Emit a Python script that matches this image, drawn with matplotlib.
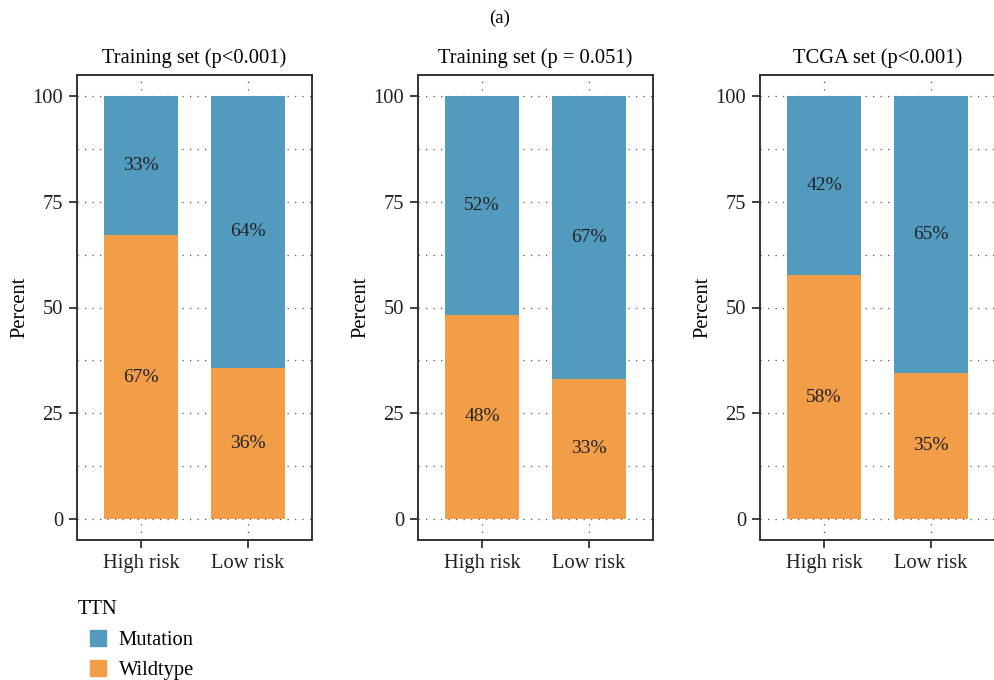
import matplotlib
matplotlib.use("Agg")
import matplotlib.pyplot as plt
from matplotlib.patches import Patch

plt.rcParams['font.family'] = ['Liberation Serif', 'DejaVu Serif']

titles = ["Training set (p<0.001)", "Training set (p = 0.051)", "TCGA set (p<0.001)"]
groups = ["High risk", "Low risk"]
wildtype = [[67.1, 35.8], [48.3, 33.2], [57.6, 34.6]]
mutation = [[32.9, 64.2], [51.7, 66.8], [42.4, 65.4]]
wild_lbl = [["67%", "36%"], ["48%", "33%"], ["58%", "35%"]]
mut_lbl = [["33%", "64%"], ["52%", "67%"], ["42%", "65%"]]
yticks = [0, 25, 50, 75, 100]

blue = "#539ABF"
orange = "#F29D47"
edge = "#333333"
fs = 14.8

fig = plt.figure(figsize=(9.95, 6.8), dpi=100)
lefts = [77, 418, 760]
W, H = 995, 680
for i in range(3):
    ax = fig.add_axes([lefts[i] / W, 1 - 540 / H, 235 / W, 465 / H])
    x = list(range(len(groups)))
    ax.bar(x, wildtype[i], width=0.7, color=orange, zorder=2)
    ax.bar(x, mutation[i], bottom=wildtype[i], width=0.7, color=blue, zorder=2)
    for j in x:
        ax.text(j, wildtype[i][j] / 2, wild_lbl[i][j], ha='center', va='center',
                fontsize=14, color='#222222', zorder=3)
        ax.text(j, wildtype[i][j] + mutation[i][j] / 2, mut_lbl[i][j], ha='center',
                va='center', fontsize=14, color='#222222', zorder=3)
    ax.set_xlim(-0.6, 1.6)
    ax.set_ylim(-5, 105)
    ax.set_xticks(x)
    ax.set_xticklabels(groups, fontsize=fs)
    ax.set_yticks(yticks)
    ax.set_yticklabels([str(t) for t in yticks], fontsize=fs)
    ax.set_yticks([12.5, 37.5, 62.5, 87.5], minor=True)
    ax.tick_params(which='minor', length=0)
    ax.tick_params(which='major', length=6, width=1.3, color=edge, colors='#222222',
                   direction='out', pad=4)
    ax.grid(True, which='major', axis='x', linestyle=(0, (1, 5)), color='#555555',
            linewidth=0.9, zorder=1)
    ax.grid(True, which='both', axis='y', linestyle=(0, (1, 5)), color='#555555',
            linewidth=0.9, zorder=1)
    ax.set_axisbelow(True)
    for s in ax.spines.values():
        s.set_color(edge)
        s.set_linewidth(1.4)
    ax.set_ylabel("Percent", fontsize=fs, labelpad=2)
    ax.set_title(titles[i], fontsize=fs, pad=9)

fig.text(500 / W, 1 - 18 / H, "(a)", ha='center', va='center', fontsize=13.5)

fig.text(78 / W, 1 - 609 / H, "TTN", ha='left', va='center', fontsize=fs)
handles = [Patch(color=blue, label="Mutation"), Patch(color=orange, label="Wildtype")]
fig.legend(handles=handles, loc='upper left', bbox_to_anchor=(90 / W, 1 - 630 / H),
           frameon=False, fontsize=fs, handlelength=0.8, handleheight=0.8,
           handletextpad=0.6, labelspacing=0.5, borderaxespad=0, borderpad=0)

fig.savefig("out.png", dpi=100)
